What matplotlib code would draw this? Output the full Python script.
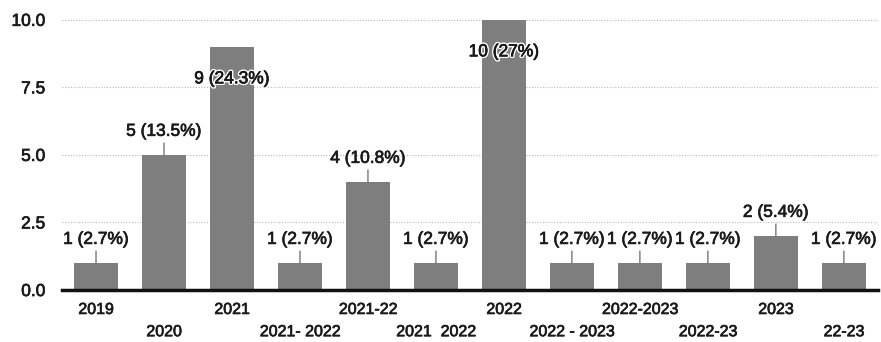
import matplotlib
matplotlib.use("Agg")
import matplotlib.pyplot as plt
import matplotlib.patheffects as pe

categories = ["2019", "2020", "2021", "2021- 2022", "2021-22", "2021  2022", "2022",
              "2022 - 2023", "2022-2023", "2022-23", "2023", "22-23"]
counts = [1, 5, 9, 1, 4, 1, 10, 1, 1, 1, 2, 1]
percent_labels = ["2.7%", "13.5%", "24.3%", "2.7%", "10.8%", "2.7%", "27%",
                  "2.7%", "2.7%", "2.7%", "5.4%", "2.7%"]
yticks = [0.0, 2.5, 5.0, 7.5, 10.0]

plt.rcParams['font.family'] = ['Liberation Sans', 'DejaVu Sans']

txt_color = "#1a1a1a"
thicken = [pe.withStroke(linewidth=0.5, foreground=txt_color)]

fig = plt.figure(figsize=(8.81, 3.42), dpi=100)
ax = fig.add_axes([0.0704, 0.152, 0.926, 0.79])

x = list(range(len(categories)))
bar_color = "#7e7e7e"
ax.bar(x, counts, width=0.65, color=bar_color, zorder=2)

ax.set_xlim(-0.5, len(categories) - 0.5)
ax.set_ylim(0, 10)
ax.set_yticks(yticks)
ax.set_yticklabels([f"{v:.1f}" for v in yticks], fontsize=12.5, color=txt_color,
                   path_effects=thicken)
ax.tick_params(axis='y', length=0, pad=12)
ax.set_xticks(x)
ax.set_xticklabels([])
ax.tick_params(axis='x', length=0)

for i, c in enumerate(categories):
    off = -14 if i % 2 == 0 else -30
    ax.annotate(c, xy=(i, 0), xytext=(0, off), textcoords='offset points',
                ha='center', va='center', fontsize=11.5, color=txt_color,
                annotation_clip=False, path_effects=thicken)

ax.grid(axis='y', linestyle=(0, (1, 1.5)), color="#bbbbbb", linewidth=0.8, zorder=0)
for s in ["left", "right", "top"]:
    ax.spines[s].set_visible(False)
ax.spines["bottom"].set_linewidth(2.5)
ax.spines["bottom"].set_color("#111111")
ax.spines["bottom"].set_zorder(3)

for i, (v, p) in enumerate(zip(counts, percent_labels)):
    label = f"{v} ({p})"
    if v >= 9:
        ax.annotate(label, xy=(i, v), xytext=(0, -23), textcoords='offset points',
                    ha='center', va='center', fontsize=12.5, color=txt_color, zorder=4,
                    path_effects=[pe.withStroke(linewidth=2.5, foreground="white"),
                                  pe.withStroke(linewidth=0.5, foreground=txt_color)])
    else:
        ax.annotate(label, xy=(i, v), xytext=(0, 17), textcoords='offset points',
                    ha='center', va='center', fontsize=12.5, color=txt_color, zorder=4,
                    path_effects=thicken,
                    arrowprops=dict(arrowstyle='-', color="#777777", lw=1,
                                    shrinkA=1, shrinkB=0))

fig.savefig("out.png", dpi=100)
